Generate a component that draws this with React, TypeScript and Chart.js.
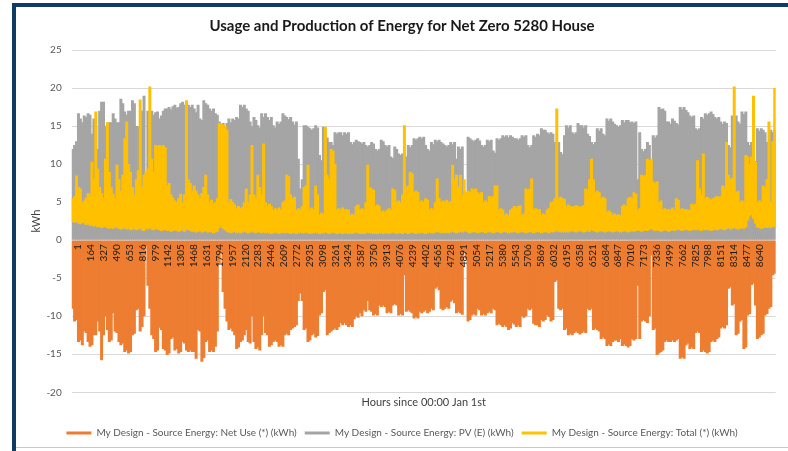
import React, { useEffect, useRef } from "react";
import { Chart, registerables } from "chart.js";

Chart.register(...registerables);

const chartTitle = "Usage and Production of Energy for Net Zero 5280 House";
const xTitle = "Hours since 00:00 Jan 1st";
const yTitle = "kWh";
const seriesNames = [
  "My Design - Source Energy: Net Use (*) (kWh)",
  "My Design - Source Energy: PV (E) (kWh)",
  "My Design - Source Energy: Total (*) (kWh)",
];

const tickHours = [
  1, 164, 327, 490, 653, 816, 979, 1142, 1305, 1468, 1631, 1794, 1957, 2120, 2283, 2446, 2609, 2772,
  2935, 3098, 3261, 3424, 3587, 3750, 3913, 4076, 4239, 4402, 4565, 4728, 4891, 5054, 5217, 5380,
  5543, 5706, 5869, 6032, 6195, 6358, 6521, 6684, 6847, 7010, 7173, 7336, 7499, 7662, 7825, 7988,
  8151, 8314, 8477, 8640,
];

// daily peak of PV production (kWh)
const pvPeak = [
  12, 12.5, 13, 16.7, 16, 15.5, 16.4, 16.2, 16.7, 16.5, 14, 16, 15, 12, 17, 18.2, 18.2, 15, 13, 15.5,
  15.5, 16.7, 16, 15.5, 15.5, 18.6, 18, 16.9, 16.5, 17, 17, 18.4, 18, 15, 15, 14, 17, 19, 4, 17,
  16.9, 17, 16.5, 16.8, 16.9, 16, 16.4, 17, 17.3, 17.3, 17.5, 17.2, 17.6, 17.8, 17.4, 17.5, 18, 18.2, 17.8, 18.2,
  17.8, 17.5, 17.8, 17.3, 16.8, 17.8, 16, 15.8, 18.4, 18, 17.8, 17.3, 17, 17.3, 16.7, 16.5, 15.6, 15.2, 15.4, 15,
  15.4, 16, 15.5, 16, 15.8, 16.2, 16, 17.8, 17.5, 17.8, 17.3, 17, 15.6, 15, 16.2, 15.8, 15.1, 14.8, 16.7, 16.2,
  16.7, 16.2, 15.8, 16.2, 15.1, 14.8, 15.6, 15.3, 15.6, 16.7, 16.4, 16.2, 15.9, 16.2, 15.6, 15.2, 15.6, 10.7, 6.8, 8,
  15.1, 15.1, 14.9, 14.7, 14.5, 14.7, 15.1, 14.8, 11.2, 10.5, 14.9, 14.6, 13.5, 12.9, 12.9, 12.5, 14.2, 14, 14.2, 14.2,
  13.8, 14.2, 14, 14.2, 12.9, 12.6, 12.9, 13.2, 13, 12.9, 12.7, 12.9, 12.5, 12.3, 12.5, 12.9, 12.7, 12, 11.8, 12,
  13.2, 13, 12.5, 12.3, 12.5, 11, 10.8, 12.3, 12, 11.4, 11.2, 11.4, 11.2, 11, 12.5, 12.2, 12.5, 13.4, 13.2, 13.4,
  13.6, 13.4, 13.6, 12.5, 12, 11.8, 12.9, 12.6, 13.2, 13, 13.2, 12.9, 12.7, 12.5, 12.3, 12.5, 12.9, 12.6, 12.9, 10.7,
  12.3, 12, 12.3, 6.4, 6, 13.6, 13.4, 13.2, 13, 13.2, 13.4, 13.1, 12.5, 12.3, 12.5, 13.2, 13, 13.2, 11.8, 11.5,
  13.4, 13.2, 13.4, 13.8, 13.6, 13.8, 13.5, 13.8, 13.6, 13.4, 13.4, 13.2, 13.4, 13.8, 13.6, 13.8, 12.5, 12.2, 12.5, 13.8,
  13.6, 14, 13.8, 14.7, 14.5, 14.5, 14.2, 14, 14.2, 14, 12.9, 12.5, 12.9, 11.6, 11.3, 13.8, 15.1, 14.8, 15.1, 14.2,
  14, 14.2, 15.4, 15.1, 15.1, 14.8, 15.1, 14, 13.7, 12.9, 12.6, 12.9, 14.7, 14.4, 14.7, 14, 13.8, 16, 15.7, 16,
  15.6, 15.3, 15.1, 14.9, 15.1, 15.8, 15.5, 15.8, 15.8, 15.5, 15.6, 15.4, 15.6, 8, 14.2, 12, 11.7, 12, 12.9, 12.5,
  5, 13.8, 13.5, 13.8, 17.5, 17.2, 17.3, 17, 15.6, 15.6, 15.3, 16, 15.7, 15.4, 15.2, 17.5, 17.2, 17.5, 17.1, 16.8,
  16.4, 16.2, 16.4, 14.7, 14.5, 14.7, 16.2, 16, 16.7, 16.5, 16.7, 16.9, 16.6, 16.2, 16, 16.2, 15.6, 15.3, 15.6, 15.4,
  12.5, 12.2, 16.4, 16, 16.4, 15.6, 15.3, 16.9, 16.6, 16.9, 12.9, 12.5, 12.9, 10.7, 10.4, 14.7, 14.4, 14.7, 14.5, 14.2,
  12.9, 12.6, 14.5, 14.2, 14.5,
];

// daily highest total use (kWh)
const totalHigh = [
  5.5, 5.8, 8.5, 7, 6.8, 5, 5.2, 5.6, 6.2, 6, 10.3, 8, 16.9, 9.4, 7, 6.2, 5.5, 10.7, 15.5, 9,
  7, 6.1, 5.5, 9.9, 8, 6.5, 8.6, 13.4, 15.6, 10, 9, 7, 6, 8, 9.2, 18.5, 7, 8.6, 9, 9.4,
  20.2, 10.7, 9, 12.5, 12.4, 12.5, 12.3, 12.5, 12.2, 7.2, 7.5, 6, 5.6, 5.2, 5, 5.5, 6.1, 5, 6, 18.4,
  8, 7.5, 6.5, 7.2, 6.5, 6, 5.5, 6.2, 7, 8.6, 6, 5, 5.3, 4.8, 5, 5.5, 15.4, 15.3, 15.2, 15,
  14.5, 5, 5.4, 5, 4.7, 4.2, 4.5, 4.2, 4.4, 5, 6.8, 5, 6, 12.5, 6, 5.5, 8.6, 7, 6, 12.7,
  5, 4.5, 4.8, 4.5, 4, 4.2, 4, 4.3, 4, 5, 5.2, 8.6, 8.4, 6, 5.5, 5.7, 4, 4.2, 4, 4.5,
  7, 7.2, 9.9, 4, 4.3, 4, 7.2, 6, 3.3, 3.6, 3.5, 14.9, 8.6, 8, 12, 11.8, 10, 4, 4.2, 4,
  4.3, 4, 4.1, 4, 3.3, 3.5, 3.3, 4.5, 4.7, 4, 4.2, 4, 5, 9.9, 7, 6.8, 6.6, 4.5, 4.7, 4.5,
  3.7, 3.9, 3.7, 4, 4.2, 4, 6.8, 6.6, 5, 5.2, 5, 6, 15.1, 7, 7.2, 9, 8.8, 6.3, 6.5, 6.3,
  5, 5.2, 5, 5.5, 5.3, 4, 4.2, 4, 5, 8.1, 5.5, 5, 5.2, 5, 5.3, 5, 5.1, 9.9, 8, 8.6,
  7, 8.6, 6, 8, 6.3, 6.5, 6.3, 6.8, 6.6, 6.8, 6.3, 6.1, 6.3, 5, 5.2, 5, 5.8, 5.6, 5.8, 7.2,
  7.2, 4, 4.2, 4, 3.3, 3.5, 3.3, 4, 4.2, 4.5, 4.3, 4.5, 4.6, 3.3, 3.5, 6.8, 6.6, 6.8, 8.1, 4,
  4.2, 4, 4.1, 3.3, 3.5, 3.3, 4, 4.2, 5, 5.1, 5.5, 17.3, 5.5, 5.7, 5.5, 5.4, 4.5, 4.7, 4.5, 4.4,
  4.5, 4.6, 4.5, 4.3, 4.5, 4.6, 6.8, 6.6, 8, 10.7, 8, 6.3, 6.5, 6.3, 5.5, 5.7, 5.5, 3.7, 3.9, 3.7,
  3.3, 3.5, 3.3, 3.4, 3.3, 4.5, 4.7, 4.5, 5.5, 5.7, 5.5, 6.3, 6.1, 4, 4.2, 8.6, 8.4, 8.6, 10.7, 10.5,
  10.7, 7.7, 7.5, 7.7, 5, 5.2, 4, 4.2, 4, 4.1, 4, 4.3, 4, 5.5, 5.3, 4, 4.2, 4, 4.1, 4,
  4, 4.8, 4.6, 4.8, 10.5, 6.8, 6, 11.4, 5.5, 5.7, 5.5, 5.3, 5.5, 5.6, 5.8, 5.6, 5.8, 7.2, 7, 12.9,
  8.6, 8, 8.2, 20.2, 6.3, 6.5, 5, 5.2, 5, 11.2, 11, 10, 11, 19, 10.3, 5, 5.2, 5, 7.2, 7,
  8, 15.6, 5, 13, 20,
];

// daily lowest total use (kWh)
const totalLow = [
  2.4, 2.3, 2.4, 2.2, 2.1, 2.3, 2.2, 2, 2.1, 1.9, 2, 1.8, 1.9, 1.7, 1.8, 1.6, 1.7, 1.8, 1.6, 1.5,
  1.6, 1.5, 1.7, 1.6, 1.5, 1.4, 1.5, 1.6, 1.4, 1.5, 1.3, 1.4, 1.5, 1.3, 1.4, 1.6, 1.3, 1.2, 1.5, 1.4,
  1.6, 1.4, 1.3, 1.5, 1.4, 1.3, 1.2, 1.3, 1.4, 1.2, 1.3, 1.1, 1.2, 1.3, 1.2, 1.1, 1.2, 1.3, 1.1, 1.4,
  1.3, 1.2, 1.1, 1.2, 1, 1.1, 1.2, 1, 1.1, 1.2, 1, 1.1, 1, 0.9, 1, 1.1, 1.6, 1.8, 1.5, 1.3,
  1.1, 1, 0.9, 1, 1.1, 0.9, 1, 0.9, 1, 1.1, 1, 0.9, 1, 1.1, 1, 0.9, 1.1, 1, 0.9, 1,
  0.9, 1, 0.9, 0.8, 0.9, 1, 0.9, 0.8, 0.9, 1, 0.9, 1, 0.9, 0.8, 0.9, 0.9, 0.8, 0.9, 1, 0.9,
  0.9, 1, 0.9, 0.8, 0.9, 0.9, 1, 0.9, 0.8, 0.9, 0.9, 1, 0.9, 0.8, 0.9, 1, 0.9, 0.8, 0.9, 0.9,
  0.8, 0.9, 0.9, 0.8, 0.9, 0.8, 0.9, 1, 0.9, 0.8, 0.9, 0.8, 0.9, 1, 0.9, 0.9, 0.8, 0.9, 0.8, 0.9,
  0.9, 0.8, 0.9, 0.9, 0.8, 0.9, 1, 0.9, 0.8, 0.9, 0.9, 0.8, 1, 0.9, 0.8, 0.9, 1, 0.9, 0.8, 0.9,
  0.9, 1, 0.9, 0.8, 0.9, 1, 0.9, 0.9, 1, 1.1, 1, 0.9, 1, 0.9, 1, 0.9, 1, 1.1, 1, 0.9,
  1, 1.1, 1, 1.2, 1.1, 1, 0.9, 1, 1.1, 1, 0.9, 1, 1.1, 1, 0.9, 1, 1.1, 1, 0.9, 1,
  1.1, 1, 0.9, 1, 1.1, 1, 0.9, 1, 1, 1.1, 1, 0.9, 1, 1.1, 1, 0.9, 1, 1.1, 1, 0.9,
  1, 1.1, 1, 0.9, 1, 1.1, 1, 0.9, 1.1, 1, 1.1, 1.2, 1.1, 1, 1.1, 1, 1.1, 1, 1.1, 1.2,
  1.1, 1, 1.1, 1.2, 1.1, 1, 1.1, 1.2, 1.1, 1.3, 1.2, 1.1, 1, 1.1, 1.2, 1.1, 1, 1.1, 1.2, 1.1,
  1, 1.1, 1.2, 1.1, 1, 1.1, 1.2, 1.1, 1, 1.1, 1.2, 1.1, 1.2, 1.3, 1.2, 1.1, 1.2, 1.3, 1.2, 1.4,
  1.5, 1.3, 1.2, 1.3, 1.2, 1.1, 1.2, 1.3, 1.2, 1.1, 1.2, 1.3, 1.2, 1.3, 1.4, 1.3, 1.2, 1.3, 1.4, 1.3,
  1.2, 1.3, 1.4, 1.3, 1.4, 1.3, 1.2, 1.4, 1.3, 1.4, 1.3, 1.2, 1.3, 1.4, 1.3, 1.4, 1.5, 1.4, 1.3, 1.5,
  1.6, 1.4, 1.5, 1.7, 1.5, 1.4, 1.5, 1.6, 1.5, 1.7, 2.6, 3.1, 3.3, 2.8, 2.2, 1.7, 1.6, 1.5, 1.6, 1.7,
  1.6, 1.7, 1.6, 1.8, 1.7,
];

// daily lowest net use (kWh, negative = export)
const netUseMin = [
  -9, -10.7, -10.5, -13.4, -13.2, -13.8, -12, -12.2, -13.4, -14, -13.8, -12.5, -12.5, -10.7, -12, -15.8, -12.5, -10, -11.8, -13.4,
  -13.2, -9.6, -12, -12.2, -13.4, -13.8, -13.6, -14.7, -14.5, -14.9, -14.7, -12.5, -12.3, -9.2, -9, -12, -11.4, -10, -0.8, -6,
  -9, -12.5, -13, -14.7, -14.5, -11.5, -11.8, -14.3, -14.5, -15.1, -14.9, -13, -12.8, -14.5, -14.3, -14.9, -14.7, -13.4, -13.6, -14.5,
  -14.7, -14.5, -14.7, -14.7, -15.6, -11.8, -12, -16, -15.5, -13.4, -13.2, -14.7, -14.5, -14.7, -14, -12, -3, -1.5, -6.8, -9,
  -10.7, -11.8, -11.6, -12, -12.5, -14.3, -14.1, -13.4, -13.2, -12.5, -11.8, -13.4, -13.6, -10, -13.4, -14.3, -14.1, -14.5, -12.5, -10,
  -12.2, -12.5, -14, -13.8, -13.4, -13.2, -13.4, -14, -13.8, -14, -12.5, -12.3, -12.5, -11.8, -11.6, -11.4, -11.2, -8, -7, -8,
  -11.8, -11.6, -13.4, -13.2, -12.5, -12.3, -12.8, -12.6, -9.9, -9.6, -6.8, -6.6, -12.5, -12.2, -12, -11.8, -11.6, -11.8, -11.4, -10.9,
  -11.2, -10.9, -11.2, -11.4, -11.2, -11.4, -10.4, -10, -10.2, -9.6, -10, -9.2, -9.4, -8, -9.2, -9.4, -9.9, -9.7, -9.9, -8.6,
  -8.8, -8.6, -8.8, -9.6, -9.4, -9.6, -8.6, -8.4, -8.6, -9.9, -9.7, -9.9, -4.6, -9.4, -9.2, -9.4, -9.6, -10.3, -10.1, -10.3,
  -9.4, -9.6, -9.4, -9.2, -9.6, -9.4, -9, -9.2, -6.4, -6.2, -6.6, -9, -9.2, -9, -8.8, -9, -8.1, -7.9, -8.3, -9.6,
  -9.4, -9.6, -9.8, -1.5, -2.5, -10.7, -10.5, -9.9, -9.7, -9.9, -9, -9.2, -9.9, -9.7, -9.9, -9.6, -9.4, -9.6, -9, -9.2,
  -11.2, -11, -11.2, -11.4, -11.2, -11.4, -11.8, -11.6, -10.9, -11.1, -11.4, -11.2, -11.4, -10, -10.2, -10, -9, -9.2, -9, -11,
  -11.2, -11.2, -11.4, -10.5, -10.7, -10.5, -9.9, -10.1, -10.7, -10.5, -5.5, -5.3, -9, -9.2, -9, -11.8, -11.6, -12.5, -12.3, -12.5,
  -12.2, -12, -12.2, -12.4, -12.2, -12, -12.2, -9, -9.2, -9, -11.8, -11.6, -11.8, -12, -13, -12.8, -13, -13.9, -13.7, -13.9,
  -13.4, -13.2, -13.2, -13.4, -13, -13.9, -13.7, -13.9, -14.1, -13.9, -13, -13.2, -13, -6, -13, -10.7, -10.5, -10.7, -10.9, -10,
  -2, -11.8, -11.6, -15.1, -14.9, -14.7, -14.5, -13.4, -13.2, -13.4, -13.4, -13.2, -13.4, -13.2, -13, -15.6, -15.4, -15.6, -13.8, -13.6,
  -14.3, -14.1, -14.3, -12.2, -12, -12.2, -14.7, -14.5, -14.7, -14.9, -14.7, -13.4, -13.2, -13.4, -13, -12.8, -11.6, -11.4, -11.6, -11.2,
  -6.4, -6.2, -8.6, -8.4, -12.5, -12.3, -10.7, -10.5, -14.3, -14.1, -9.9, -9.7, -5.9, -5.7, -8.6, -13, -12.8, -12.5, -12.3, -9.9,
  -9.7, -9, -8.8, -4.6, -4.4,
];

const dayLabels = pvPeak.map((_, i) => String(i + 1));

const FONT = "Lato, 'Open Sans', sans-serif";

export default function App() {
  const canvasRef = useRef<HTMLCanvasElement | null>(null);

  useEffect(() => {
    const canvas = canvasRef.current;
    if (!canvas) return;
    const common = {
      grouped: false,
      borderWidth: 0,
      barThickness: 3,
      inflateAmount: 0,
      xAxisID: "x",
      yAxisID: "y",
    };
    const chart = new Chart(canvas, {
      type: "bar",
      data: {
        labels: dayLabels,
        datasets: [
          { ...common, label: seriesNames[0], data: netUseMin, backgroundColor: "#ED7D31", order: 2 },
          { ...common, label: seriesNames[1], data: pvPeak, backgroundColor: "#A5A5A5", order: 1 },
          {
            ...common,
            label: seriesNames[2],
            data: totalHigh.map((h, i) => [totalLow[i], h]),
            backgroundColor: "#FFC000",
            order: 0,
          },
        ],
      } as any,
      options: {
        responsive: false,
        animation: false,
        devicePixelRatio: 1,
        layout: { padding: { left: 16, right: 0, top: 0, bottom: 3 } },
        plugins: {
          tooltip: { enabled: false },
          title: {
            display: true,
            text: chartTitle,
            color: "#1a1a1a",
            font: { family: FONT, size: 15, weight: "bold" },
            padding: { top: 17.5, bottom: 14.5 },
          },
          legend: {
            position: "bottom",
            labels: {
              boxWidth: 25,
              boxHeight: 3,
              padding: 8,
              color: "#595959",
              font: { family: FONT, size: 10 },
              sort: (a: any, b: any) => a.datasetIndex - b.datasetIndex,
            },
          },
        },
        scales: {
          x: {
            type: "category",
            position: "bottom",
            grid: { display: false, drawTicks: false },
            border: { display: false },
            ticks: { display: false },
            title: {
              display: true,
              text: xTitle,
              color: "#404040",
              font: { family: FONT, size: 11 },
              padding: { top: 4, bottom: 10.5 },
            },
          },
          x2: {
            type: "linear",
            axis: "x",
            position: { y: 0 },
            min: 0.5,
            max: 8760.5,
            grid: { display: false, drawTicks: false },
            border: { display: false },
            afterBuildTicks: (scale: any) => {
              scale.ticks = tickHours.map((v) => ({ value: v }));
            },
            ticks: {
              z: 1,
              autoSkip: false,
              minRotation: 90,
              maxRotation: 90,
              padding: 4,
              color: "#1a1a1a",
              font: { family: FONT, size: 10 },
              callback: (v: any) => String(v),
            },
          },
          y: {
            type: "linear",
            position: "left",
            min: -20,
            max: 25,
            grid: { color: "#d9d9d9", drawTicks: false },
            border: { display: false },
            ticks: {
              stepSize: 5,
              padding: 10,
              color: "#595959",
              font: { family: FONT, size: 10 },
            },
            title: {
              display: true,
              text: yTitle,
              color: "#404040",
              font: { family: FONT, size: 11 },
              padding: { top: 14, bottom: 0 },
            },
            afterFit: (scale: any) => {
              scale.width = 55.7;
            },
          },
          yR: {
            type: "linear",
            position: "right",
            display: true,
            grid: { display: false, drawTicks: false },
            border: { display: false },
            ticks: { display: false },
            afterFit: (scale: any) => {
              scale.width = 12.3;
            },
          },
        },
      } as any,
    });
    return () => chart.destroy();
  }, []);

  return (
    <div
      style={{
        position: "fixed",
        left: 0,
        top: 0,
        width: 788,
        height: 451,
        background: "#ffffff",
        overflow: "hidden",
      }}
    >
      <canvas ref={canvasRef} width={788} height={451} style={{ display: "block" }} />
      <div style={{ position: "absolute", left: 12, top: 3, width: 776, height: 4, background: "#103c63" }} />
      <div style={{ position: "absolute", left: 12, top: 3, width: 4, height: 448, background: "#103c63" }} />
      <div style={{ position: "absolute", left: 16, top: 447, width: 772, height: 1, background: "#c8c8c8" }} />
    </div>
  );
}
